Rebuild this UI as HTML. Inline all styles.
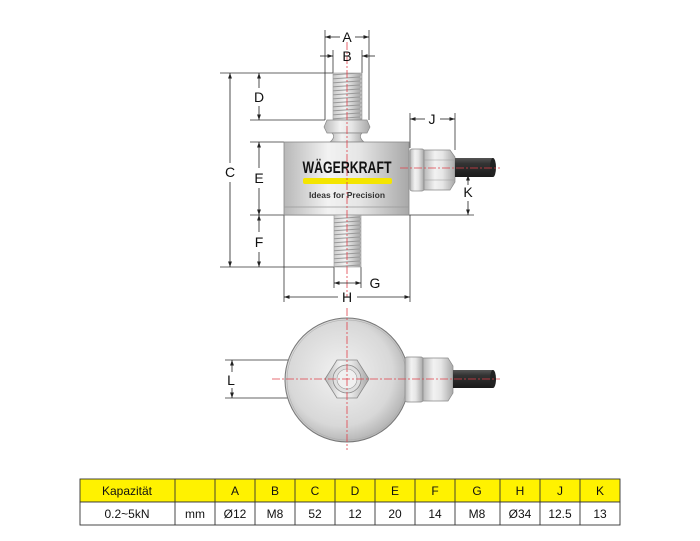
<!DOCTYPE html>
<html><head><meta charset="utf-8"><style>
html,body{margin:0;padding:0;background:#fff;width:700px;height:541px;overflow:hidden}
svg{display:block}
text{font-family:"Liberation Sans",sans-serif}
</style></head><body>
<svg width="700" height="541" viewBox="0 0 700 541" xmlns="http://www.w3.org/2000/svg">
<defs>
<linearGradient id="met" x1="0" x2="1" y1="0" y2="0">
<stop offset="0" stop-color="#b8b8b8"/><stop offset="0.35" stop-color="#f2f2f2"/><stop offset="0.6" stop-color="#e6e6e6"/><stop offset="1" stop-color="#a8a8a8"/></linearGradient>
<linearGradient id="thr" x1="0" x2="1"><stop offset="0" stop-color="#bbb"/><stop offset="0.5" stop-color="#f4f4f4"/><stop offset="1" stop-color="#aaa"/></linearGradient>
<linearGradient id="cab" x1="0" y1="0" x2="0" y2="1"><stop offset="0" stop-color="#555"/><stop offset="0.3" stop-color="#333"/><stop offset="1" stop-color="#1a1a1a"/></linearGradient>
<radialGradient id="disc" cx="0.45" cy="0.45" r="0.6"><stop offset="0" stop-color="#f2f2f2"/><stop offset="0.7" stop-color="#d8d8d8"/><stop offset="1" stop-color="#aaa"/></radialGradient>
<marker id="ar" viewBox="0 0 10 10" refX="10" refY="5" markerWidth="7" markerHeight="7" orient="auto-start-reverse"><path d="M0,1.5 L10,5 L0,8.5z" fill="#222"/></marker>
<pattern id="th" width="30" height="4" patternUnits="userSpaceOnUse"><rect width="30" height="4" fill="url(#thr)"/><path d="M0,3 L30,1" stroke="#999" stroke-width="1"/></pattern>
</defs>
<g stroke="#333" stroke-width="0.8" fill="none">
<line x1="220" y1="73" x2="333" y2="73"/>
<line x1="250" y1="120" x2="325" y2="120"/>
<line x1="250" y1="142" x2="284" y2="142"/>
<line x1="250" y1="215" x2="474" y2="215"/>
<line x1="220" y1="267" x2="334" y2="267"/>
<line x1="325" y1="30" x2="325" y2="120"/>
<line x1="369" y1="30" x2="369" y2="120"/>
<line x1="333" y1="50" x2="333" y2="73"/>
<line x1="362" y1="50" x2="362" y2="73"/>
<line x1="410" y1="113" x2="410" y2="148"/>
<line x1="455" y1="113" x2="455" y2="150"/>
<line x1="334" y1="267" x2="334" y2="288"/>
<line x1="361" y1="267" x2="361" y2="288"/>
<line x1="284" y1="215" x2="284" y2="302"/>
<line x1="410" y1="215" x2="410" y2="302"/>
</g>
<rect x="333" y="73" width="29" height="47" fill="url(#th)" stroke="#999" stroke-width="0.6"/>
<path d="M327,120 H367 L370,127 L367,133 H327 L324,127Z" fill="url(#met)" stroke="#888" stroke-width="0.7"/>
<path d="M332,133 H362 Q358,137 364,142 H330 Q336,137 332,133Z" fill="url(#met)" stroke="#888" stroke-width="0.7"/>
<rect x="284" y="142" width="125" height="73" fill="url(#met)" stroke="#888" stroke-width="0.8"/>
<line x1="284" y1="207" x2="409" y2="207" stroke="#999" stroke-width="0.7"/>
<text x="347" y="173" font-size="17" font-weight="bold" text-anchor="middle" fill="#111" textLength="89" lengthAdjust="spacingAndGlyphs">WÄGERKRAFT</text>
<rect x="303" y="178" width="89" height="6" rx="2" fill="#f4e500"/>
<text x="347" y="198" font-size="8.5" font-weight="bold" text-anchor="middle" fill="#333">Ideas for Precision</text>
<rect x="334" y="215" width="27" height="52" fill="url(#th)" stroke="#999" stroke-width="0.6"/>
<rect x="410" y="149" width="14" height="42" rx="2" fill="url(#met)" stroke="#888" stroke-width="0.7"/>
<path d="M424,150 H450 L455,157 V182 L450,190 H424Z" fill="url(#met)" stroke="#888" stroke-width="0.7"/>
<line x1="424" y1="160" x2="454" y2="160" stroke="#999" stroke-width="0.5"/>
<line x1="424" y1="180" x2="454" y2="180" stroke="#999" stroke-width="0.5"/>
<rect x="455" y="158" width="38" height="19" fill="url(#cab)"/>
<ellipse cx="493" cy="167.5" rx="3" ry="9.5" fill="#222"/>
<g stroke="#e0404a" stroke-width="0.8" stroke-dasharray="8,2,2,2" fill="none">
<line x1="347" y1="42" x2="347" y2="297"/>
<line x1="400" y1="168" x2="500" y2="168"/>
</g>
<g stroke="#222" stroke-width="0.8" fill="none">
<line x1="230" y1="73" x2="230" y2="163" marker-start="url(#ar)"/>
<line x1="230" y1="182" x2="230" y2="267" marker-end="url(#ar)"/>
<line x1="259" y1="73" x2="259" y2="88" marker-start="url(#ar)"/>
<line x1="259" y1="106" x2="259" y2="120" marker-end="url(#ar)"/>
<line x1="259" y1="142" x2="259" y2="168" marker-start="url(#ar)"/>
<line x1="259" y1="188" x2="259" y2="215" marker-end="url(#ar)"/>
<line x1="259" y1="215" x2="259" y2="232" marker-start="url(#ar)"/>
<line x1="259" y1="252" x2="259" y2="267" marker-end="url(#ar)"/>
<line x1="325" y1="37" x2="340" y2="37" marker-start="url(#ar)"/>
<line x1="355" y1="37" x2="369" y2="37" marker-end="url(#ar)"/>
<line x1="320" y1="56" x2="333" y2="56" marker-end="url(#ar)"/>
<line x1="375" y1="56" x2="362" y2="56" marker-end="url(#ar)"/>
<line x1="410" y1="119" x2="425" y2="119" marker-start="url(#ar)"/>
<line x1="440" y1="119" x2="455" y2="119" marker-end="url(#ar)"/>
<line x1="468" y1="185" x2="468" y2="175" marker-end="url(#ar)"/>
<line x1="468" y1="201" x2="468" y2="215" marker-end="url(#ar)"/>
<line x1="334" y1="283" x2="361" y2="283" marker-start="url(#ar)" marker-end="url(#ar)"/>
<line x1="284" y1="297" x2="338" y2="297" marker-start="url(#ar)"/>
<line x1="357" y1="297" x2="410" y2="297" marker-end="url(#ar)"/>
</g>
<g font-size="14" fill="#111" text-anchor="middle">
<text x="347" y="42">A</text><text x="347" y="61">B</text>
<text x="230" y="177">C</text><text x="259" y="102">D</text>
<text x="259" y="183">E</text><text x="259" y="247">F</text>
<text x="375" y="288">G</text><text x="347" y="302">H</text>
<text x="432" y="124">J</text><text x="468" y="197">K</text>
<text x="231" y="385">L</text>
</g>
<g stroke="#333" stroke-width="0.8">
<line x1="225" y1="360" x2="330" y2="360"/>
<line x1="225" y1="398" x2="330" y2="398"/>
</g>
<line x1="232" y1="372" x2="232" y2="360" stroke="#222" stroke-width="0.8" marker-end="url(#ar)"/>
<line x1="232" y1="388" x2="232" y2="398" stroke="#222" stroke-width="0.8" marker-end="url(#ar)"/>
<circle cx="347" cy="380" r="62" fill="url(#disc)" stroke="#777" stroke-width="1"/>
<circle cx="347" cy="380" r="60" fill="none" stroke="#aaa" stroke-width="0.5"/>
<path d="M337,360 H357 L369,379 L357,398 H337 L325,379Z" fill="url(#met)" stroke="#888" stroke-width="0.8"/>
<circle cx="347" cy="379" r="14" fill="#e0e0e0" stroke="#888" stroke-width="0.8"/>
<circle cx="347" cy="379" r="10" fill="#f0f0f0" stroke="#999" stroke-width="0.6"/>
<rect x="405" y="357" width="18" height="45" rx="2" fill="url(#met)" stroke="#888" stroke-width="0.7"/>
<path d="M423,358 H448 L453,366 V393 L448,401 H423Z" fill="url(#met)" stroke="#888" stroke-width="0.7"/>
<rect x="453" y="370" width="40" height="18" fill="url(#cab)"/>
<ellipse cx="493" cy="379" rx="3" ry="9" fill="#222"/>
<g stroke="#e0404a" stroke-width="0.8" stroke-dasharray="8,2,2,2" fill="none">
<line x1="347" y1="308" x2="347" y2="450"/>
<line x1="272" y1="379" x2="500" y2="379"/>
</g>
<g stroke="#333" stroke-width="0.9">
<rect x="80" y="479" width="540" height="23" fill="#fff200"/>
<rect x="80" y="502" width="540" height="23" fill="#fff"/>
<line x1="175" y1="479" x2="175" y2="525"/><line x1="215" y1="479" x2="215" y2="525"/>
<line x1="255" y1="479" x2="255" y2="525"/><line x1="295" y1="479" x2="295" y2="525"/>
<line x1="335" y1="479" x2="335" y2="525"/><line x1="375" y1="479" x2="375" y2="525"/>
<line x1="415" y1="479" x2="415" y2="525"/><line x1="455" y1="479" x2="455" y2="525"/>
<line x1="500" y1="479" x2="500" y2="525"/><line x1="540" y1="479" x2="540" y2="525"/>
<line x1="580" y1="479" x2="580" y2="525"/>
</g>
<g font-size="12" fill="#111" text-anchor="middle">
<text x="127" y="495">Kapazität</text>
<text x="235" y="495">A</text><text x="275" y="495">B</text><text x="315" y="495">C</text>
<text x="355" y="495">D</text><text x="395" y="495">E</text><text x="435" y="495">F</text>
<text x="477" y="495">G</text><text x="520" y="495">H</text><text x="560" y="495">J</text>
<text x="600" y="495">K</text>
<text x="127" y="518">0.2~5kN</text><text x="195" y="518">mm</text>
<text x="235" y="518">Ø12</text><text x="275" y="518">M8</text><text x="315" y="518">52</text>
<text x="355" y="518">12</text><text x="395" y="518">20</text><text x="435" y="518">14</text>
<text x="477" y="518">M8</text><text x="520" y="518">Ø34</text><text x="560" y="518">12.5</text>
<text x="600" y="518">13</text>
</g>
</svg>
</body></html>
